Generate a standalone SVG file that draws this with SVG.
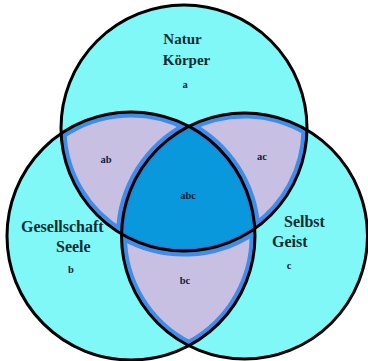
<svg xmlns="http://www.w3.org/2000/svg" width="368" height="361" viewBox="0 0 368 361">
<style>
.set{fill:#80f8f8;stroke:none}
.ring{fill:none;stroke:#000;stroke-width:3}
.pair{fill:#c8c0e2;stroke:#3f8de8;stroke-width:11}
.core{fill:#0a98dc;stroke:#2a7fd6;stroke-width:6}
.big{font-family:"Liberation Serif","Times New Roman",serif;font-weight:bold;font-size:16px;fill:#0f2c32}
.sm{font-family:"Liberation Serif","Times New Roman",serif;font-weight:bold;font-size:10.5px;fill:#12203a;text-anchor:middle}
</style>
<defs>
<path id="pab" d="M61.1,133.6 A124,124 0 0 1 188.84,126.3 A123,123 0 0 0 121.51,233.95 A123,123 0 0 1 61.1,133.6 Z"/>
<path id="pac" d="M188.84,126.3 A123,123 0 0 1 306.99,130.05 A123,123 0 0 1 254.8,228.6 A124,124 0 0 0 188.84,126.3 Z"/>
<path id="pbc" d="M121.51,233.95 A123,123 0 0 0 254.8,228.6 A124,124 0 0 1 188.84,345.7 A123,123 0 0 1 121.51,233.95 Z"/>
<path id="pabc" d="M188.84,126.3 A124,124 0 0 1 254.8,228.6 A123,123 0 0 1 121.51,233.95 A123,123 0 0 1 188.84,126.3 Z"/>
<clipPath id="cab"><use href="#pab"/></clipPath>
<clipPath id="cac"><use href="#pac"/></clipPath>
<clipPath id="cbc"><use href="#pbc"/></clipPath>
<clipPath id="cabc"><use href="#pabc"/></clipPath>
</defs>
<rect width="368" height="361" fill="#fff"/>
<g id="fills">
<circle class="set" cx="184" cy="128" r="123"/>
<circle class="set" cx="131" cy="236" r="124"/>
<circle class="set" cx="244.5" cy="236" r="123"/>
</g>
<g id="region-ab"><use href="#pab" class="pair" clip-path="url(#cab)"/><text class="sm" x="106" y="163">ab</text></g>
<g id="region-ac"><use href="#pac" class="pair" clip-path="url(#cac)"/><text class="sm" x="262" y="160">ac</text></g>
<g id="region-bc"><use href="#pbc" class="pair" clip-path="url(#cbc)"/><text class="sm" x="185" y="284">bc</text></g>
<g id="region-abc"><use href="#pabc" class="core" clip-path="url(#cabc)"/><text class="sm" x="188" y="199">abc</text></g>
<g id="outlines">
<circle class="ring" cx="184" cy="128" r="123"/>
<circle class="ring" cx="131" cy="236" r="124"/>
<circle class="ring" cx="244.5" cy="236" r="123"/>
</g>
<g id="set-a">
<text class="big" x="182.5" y="44" text-anchor="middle" style="font-size:15px">Natur</text>
<text class="big" x="186.5" y="65" text-anchor="middle" style="font-size:15px">Körper</text>
<text class="sm" x="185" y="88">a</text>
</g>
<g id="set-b">
<text class="big" x="21" y="232">Gesellschaft</text>
<text class="big" x="56" y="252">Seele</text>
<text class="sm" x="71" y="273">b</text>
</g>
<g id="set-c">
<text class="big" x="284" y="227">Selbst</text>
<text class="big" x="272" y="247">Geist</text>
<text class="sm" x="289" y="269">c</text>
</g>
</svg>
